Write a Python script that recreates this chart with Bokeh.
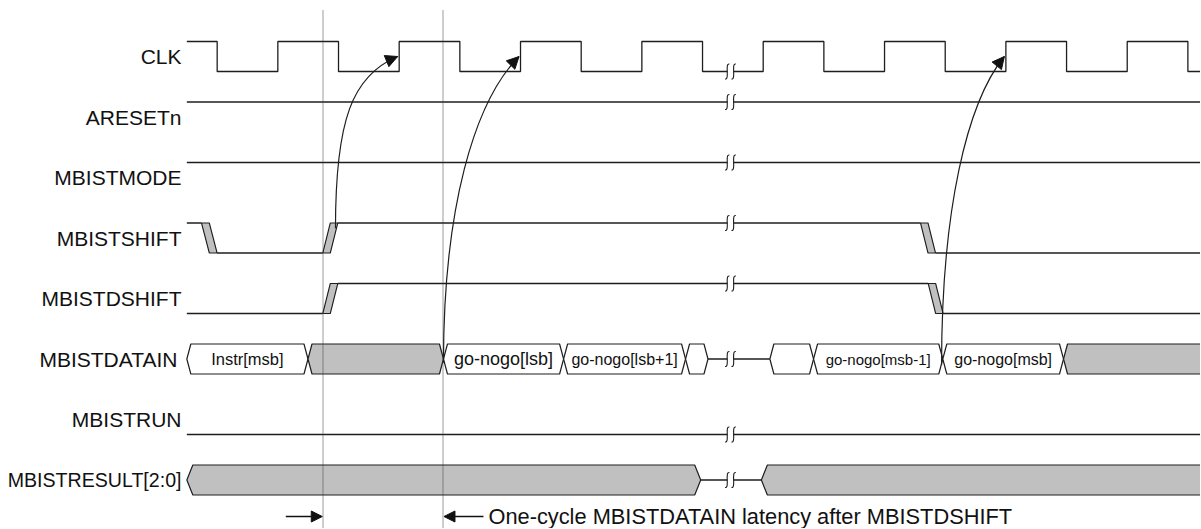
import math
from bokeh.plotting import figure
from bokeh.models import Range1d, Arrow, NormalHead, ColumnDataSource
from bokeh.core.properties import value
from bokeh.embed import file_html
from bokeh.resources import INLINE

# ---------------- data (time unit = half clock period) ----------------
signal_names = ["CLK", "ARESETn", "MBISTMODE", "MBISTSHIFT", "MBISTDSHIFT",
                "MBISTDATAIN", "MBISTRUN", "MBISTRESULT[2:0]"]
t_begin = 0.5
t_end = 17.4
clk_start_level = 1
clk_edges = [1, 2, 3, 4, 5, 6, 7, 8, 9, 10, 11, 12, 13, 14, 15, 16, 17]
aresetn_level = 1
mbistmode_level = 1
mbistrun_level = 0
shift_start_level = 1
shift_edge_begin = [0.742, 2.741, 12.593]
shift_edge_end = [0.999, 2.988, 12.840]
dshift_start_level = 0
dshift_edge_begin = [2.741, 12.720]
dshift_edge_end = [2.988, 12.965]
datain_begin = [0.5, 2.497, 4.730, 6.710, 8.720, 10.110, 10.830, 12.960, 14.950]
datain_end = [2.497, 4.730, 6.710, 8.720, 9.090, 10.830, 12.960, 14.950, 17.4]
datain_text = ["Instr[msb]", "", "go-nogo[lsb]", "go-nogo[lsb+1]", "", "",
               "go-nogo[msb-1]", "go-nogo[msb]", ""]
datain_known = [True, False, True, True, True, True, True, True, False]
result_begin = [0.5, 9.970]
result_end = [8.970, 17.4]
result_known = [False, False]
break_time = 9.46
marker_times = [2.741, 4.730]
cause_from_t = [2.95, 4.73, 12.94]
cause_from_row = [2.84, 5.06, 5.10]
cause_to_t = [3.975, 5.975, 13.975]
cause_to_row = [0.0, 0.0, 0.0]
note_text = "One-cycle MBISTDATAIN latency after MBISTDSHIFT"

# ---------------- layout / style ----------------
W, HF = 1200, 528
ORG = 0.0                       # page position of the canvas corner
PX_X0, PX_T = 156.0, 60.67      # page x of t=0, px per half period
PX_Y0, PX_ROW = 56.0, 60.5      # page y of row 0 centre, px per row
SX, SY = 1.0 / PX_T, 1.0 / PX_ROW
AMP = 15.0 * SY
LINE = "#1e1e1e"
GRAY = "#c0c0c0"
FONT = value("Liberation Sans")
label_size = {"MBISTRESULT[2:0]": "19.6px"}
label_right = {"MBISTDATAIN": 177.0}
bus_text_size = {"Instr[msb]": "16.5px", "go-nogo[lsb]": "18px", "go-nogo[lsb+1]": "16px",
                 "go-nogo[msb-1]": "15px", "go-nogo[msb]": "16px"}
cause_shape = [(0.63, 0.73, 0.11), (0.5, 0.6, 0.15), (0.5, 0.6, 0.15)]


def tx(px):
    return (px - PX_X0) / PX_T


def ry(py):
    return -(py - PX_Y0) / PX_ROW


def crisp(t):
    # snap a time to the centre of its screen pixel column (for 1px lines)
    px = PX_X0 + PX_T * t - ORG
    return tx(math.floor(px) + 0.5 + ORG)


p = figure(width=W, height=HF, output_backend="svg", toolbar_location=None,
           x_range=Range1d(tx(ORG), tx(ORG + W)), y_range=Range1d(ry(ORG + HF), ry(ORG)),
           min_border=0)
p.axis.visible = False
p.grid.visible = False
p.outline_line_color = None
p.background_fill_color = "white"

row = {n: i for i, n in enumerate(signal_names)}


def lvl(r, l):
    return -r + (AMP if l else -AMP)


seg_x, seg_y, par_x, par_y = [], [], [], []

# CLK
r = row["CLK"]
lev = clk_start_level
cx, cy = [t_begin], [lvl(r, lev)]
for e in clk_edges:
    cx += [e, e]
    cy += [lvl(r, lev), lvl(r, 1 - lev)]
    lev = 1 - lev
cx.append(t_end)
cy.append(lvl(r, lev))
seg_x.append(cx)
seg_y.append(cy)

# constant signals
for name, l in [("ARESETn", aresetn_level), ("MBISTMODE", mbistmode_level),
                ("MBISTRUN", mbistrun_level)]:
    seg_x.append([t_begin, t_end])
    seg_y.append([lvl(row[name], l)] * 2)


def level_wave(name, start, eb, ee):
    r = row[name]
    lev = start
    cur = t_begin
    for b, e in zip(eb, ee):
        y, ny = lvl(r, lev), lvl(r, 1 - lev)
        seg_x.append([cur, b])
        seg_y.append([y, y])
        m = (b + e) / 2
        par_x.append([b, m, e, m])
        par_y.append([y, y, ny, ny])
        lev = 1 - lev
        cur = e
    seg_x.append([cur, t_end])
    seg_y.append([lvl(r, lev)] * 2)


level_wave("MBISTSHIFT", shift_start_level, shift_edge_begin, shift_edge_end)
level_wave("MBISTDSHIFT", dshift_start_level, dshift_edge_begin, dshift_edge_end)


# buses
hx, hy, hc = [], [], []


def bus(name, begins, ends, known, d_px):
    r = row[name]
    c = -r
    d = d_px * SX
    for b, e, k in zip(begins, ends, known):
        hx.append([b, b + d, e - d, e, e - d, b + d])
        hy.append([c, c + AMP, c + AMP, c, c - AMP, c - AMP])
        hc.append("white" if k else GRAY)
    for e, b in zip(ends[:-1], begins[1:]):
        if b - e > 1e-6:
            seg_x.append([e, b])
            seg_y.append([c, c])


bus("MBISTDATAIN", datain_begin, datain_end, datain_known, 4.0)
bus("MBISTRESULT[2:0]", result_begin, result_end, result_known, 6.0)

p.multi_line(seg_x, seg_y, line_color=LINE, line_width=1.3)
p.patches(par_x, par_y, fill_color=GRAY, line_color=LINE, line_width=1.1)
p.patches(xs="xs", ys="ys", fill_color="fc", line_color=LINE, line_width=1.2,
          source=ColumnDataSource(dict(xs=hx, ys=hy, fc=hc)))

# break marks
brk_y = []
for name in signal_names:
    r = row[name]
    if name == "CLK":
        n = sum(1 for e in clk_edges if e <= break_time)
        brk_y.append(lvl(r, clk_start_level if n % 2 == 0 else 1 - clk_start_level))
    elif name == "MBISTSHIFT":
        n = sum(1 for e in shift_edge_end if e <= break_time)
        brk_y.append(lvl(r, shift_start_level if n % 2 == 0 else 1 - shift_start_level))
    elif name == "MBISTDSHIFT":
        n = sum(1 for e in dshift_edge_end if e <= break_time)
        brk_y.append(lvl(r, dshift_start_level if n % 2 == 0 else 1 - dshift_start_level))
    elif name == "ARESETn":
        brk_y.append(lvl(r, aresetn_level))
    elif name == "MBISTMODE":
        brk_y.append(lvl(r, mbistmode_level))
    elif name == "MBISTRUN":
        brk_y.append(lvl(r, mbistrun_level))
    else:
        brk_y.append(-r)

p.quad(left=[break_time - 3 * SX] * len(brk_y), right=[break_time + 3 * SX] * len(brk_y),
       top=[y + 2.5 * SY for y in brk_y], bottom=[y - 2.5 * SY for y in brk_y],
       fill_color="white", line_color=None)
bx0, by0, bx1, by1, bcx0, bcy0, bcx1, bcy1 = [], [], [], [], [], [], [], []
for y in brk_y:
    for off in (-3.2, 3.2):
        c = break_time + off * SX
        bx0.append(c + 2.2 * SX); by0.append(y + 7.5 * SY)
        bx1.append(c - 2.2 * SX); by1.append(y - 7.5 * SY)
        bcx0.append(c - 2.8 * SX); bcy0.append(y + 8.5 * SY)
        bcx1.append(c + 2.8 * SX); bcy1.append(y - 8.5 * SY)
p.bezier(x0=bx0, y0=by0, x1=bx1, y1=by1, cx0=bcx0, cy0=bcy0, cx1=bcx1, cy1=bcy1,
         line_color=LINE, line_width=1.1)

# bus texts
tx_, ty_, tt_, ts_ = [], [], [], []
for b, e, t in zip(datain_begin, datain_end, datain_text):
    if t:
        tx_.append((b + e) / 2); ty_.append(-row["MBISTDATAIN"]); tt_.append(t)
        ts_.append(bus_text_size.get(t, "16px"))
p.text(x="x", y="y", text="t", text_font_size="s", text_font=FONT, text_color="#111111",
       text_align="center", text_baseline="middle",
       source=ColumnDataSource(dict(x=tx_, y=ty_, t=tt_, s=ts_)))

# row labels
lx = [tx(label_right.get(n, 181.0)) for n in signal_names]
ly = [-row[n] for n in signal_names]
ls = [label_size.get(n, "21px") for n in signal_names]
p.text(x="x", y="y", text="t", text_font_size="s", text_font=FONT, text_color="#111111",
       text_align="right", text_baseline="middle",
       source=ColumnDataSource(dict(x=lx, y=ly, t=signal_names, s=ls)))

# dotted markers
mk = [crisp(t) for t in marker_times]
p.segment(x0=mk, y0=[ry(10)] * 2, x1=mk, y1=[ry(540)] * 2,
          line_color="#3a3a3a", line_width=1, line_dash="1 1")

# causality arrows
for (ft, fr, tt, tr, (k1, k2, k3)) in zip(cause_from_t, cause_from_row, cause_to_t,
                                          cause_to_row, cause_shape):
    x0, y0 = ft, -fr
    x3, y3 = tt, -tr
    x1, y1 = x0, y0 + k1 * (y3 - y0)
    x2, y2 = x3 - k2 * (x3 - x0), y3 + k3 * (y0 - y3)
    p.bezier(x0=[x0], y0=[y0], x1=[x3], y1=[y3], cx0=[x1], cy0=[y1], cx1=[x2], cy1=[y2],
             line_color=LINE, line_width=1.2)
    p.add_layout(Arrow(end=NormalHead(size=12, fill_color="#111111", line_color="#111111",
                                      line_width=1),
                       x_start=x3 - 0.08 * (x3 - x2), y_start=y3 - 0.08 * (y3 - y2),
                       x_end=x3, y_end=y3, line_color="#111111", line_width=1))

# latency note
ny = ry(516)
p.add_layout(Arrow(end=NormalHead(size=11, fill_color="#111111", line_color="#111111",
                                  line_width=1),
                   x_start=marker_times[0] - 37 * SX, y_start=ny,
                   x_end=marker_times[0] - 0.5 * SX, y_end=ny,
                   line_color="#111111", line_width=1.3))
p.add_layout(Arrow(end=NormalHead(size=11, fill_color="#111111", line_color="#111111",
                                  line_width=1),
                   x_start=marker_times[1] + 40 * SX, y_start=ny,
                   x_end=marker_times[1] + 0.5 * SX, y_end=ny,
                   line_color="#111111", line_width=1.3))
p.text(x=[marker_times[1] + 45 * SX], y=[ny], text=[note_text], text_font=FONT,
       text_font_size="21.8px", text_color="#111111", text_align="left",
       text_baseline="middle")

open("out.html", "w").write(file_html(p, INLINE))
